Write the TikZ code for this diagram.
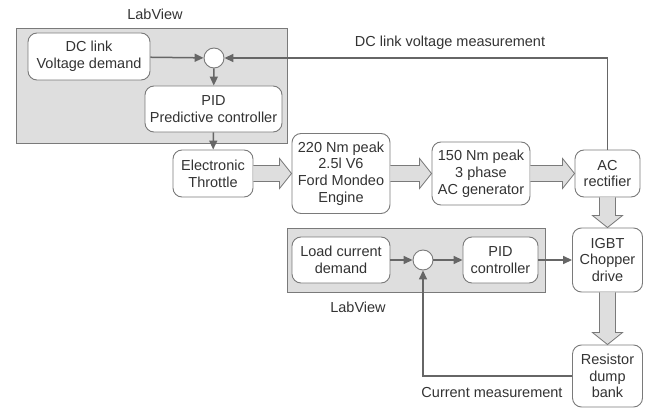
\documentclass[tikz,border=0pt]{standalone}
\usepackage{fontspec}
\setmainfont{Liberation Sans}
\usepackage{tikz}
\usetikzlibrary{positioning, arrows.meta, calc}

\definecolor{boxline}{HTML}{7A7A7A}
\definecolor{labfill}{HTML}{DEDEDE}
\definecolor{txtgray}{HTML}{333333}
\definecolor{wire}{HTML}{666666}

\tikzset{
	blk/.style={draw=boxline, fill=white, rounded corners=9pt, line width=0.9pt, align=center, inner sep=1pt},
	labview/.style={draw=boxline, fill=labfill, line width=0.9pt},
	sumnode/.style={circle, draw=boxline, fill=white, line width=0.9pt, minimum size=20pt, inner sep=0pt},
	sig/.style={draw=wire, line width=1.5pt, -{Triangle[length=9pt,width=8pt]}},
	fat/.style={draw=boxline, fill=labfill, line width=0.8pt, line join=miter},
}

% block arrows between two nodes
\newcommand{\harrow}[2]{%
	\filldraw[fat] ($(#1.east)+(0,-8)$) -- ($(#2.west)+(-12,-8)$) -- ($(#2.west)+(-12,-15)$) -- (#2.west)
		-- ($(#2.west)+(-12,15)$) -- ($(#2.west)+(-12,8)$) -- ($(#1.east)+(0,8)$);}
\newcommand{\varrow}[2]{%
	\filldraw[fat] ($(#1.south)+(-8,0)$) -- ($(#2.north)+(-8,-12)$) -- ($(#2.north)+(-15,-12)$) -- (#2.north)
		-- ($(#2.north)+(15,-12)$) -- ($(#2.north)+(8,-12)$) -- ($(#1.south)+(8,0)$);}

\begin{document}
\begin{tikzpicture}[x=1pt, y=-1pt, font=\fontsize{14.5}{16.8}\selectfont, text=txtgray]
	\useasboundingbox (0,0) rectangle (656,412);

	% LabView areas
	\draw[labview] (16,28) rectangle (287,143);
	\draw[labview] (287,228) rectangle (545,292);
	\node (lvtop) at (155,14) {LabView};
	\node (lvbot) at (358,307) {LabView};

	% upper loop
	\node[blk, minimum width=122pt, minimum height=47pt] (dcdem) at (89,56.5) {DC link\\Voltage demand};
	\node[sumnode] (sumv) at (214,58) {};
	\node[blk, minimum width=137pt, minimum height=46pt] (pidpred) at (213.5,109) {PID\\Predictive controller};
	\node[blk, minimum width=80pt, minimum height=47pt] (throttle) at (213,173.5) {Electronic\\Throttle};

	% power path
	\node[blk, minimum width=98pt, minimum height=80pt] (engine) at (341,173.5) {220 Nm peak\\2.5l V6\\Ford Mondeo\\Engine};
	\node[blk, minimum width=98pt, minimum height=63pt] (gen) at (481,173.5) {150 Nm peak\\3 phase\\AC generator};
	\node[blk, minimum width=65pt, minimum height=47pt] (rect) at (607.5,173.5) {AC\\rectifier};
	\node[blk, minimum width=70pt, minimum height=64pt] (igbt) at (607.5,260) {IGBT\\Chopper\\drive};
	\node[blk, minimum width=70pt, minimum height=62pt] (dump) at (607.5,376) {Resistor\\dump\\bank};

	% lower loop
	\node[blk, minimum width=98pt, minimum height=46pt] (loaddem) at (341,260) {Load current\\demand};
	\node[sumnode] (sumi) at (423,260) {};
	\node[blk, minimum width=75pt, minimum height=46pt] (pidc) at (500.5,260) {PID\\controller};

	\harrow{throttle}{engine}
	\harrow{engine}{gen}
	\harrow{gen}{rect}
	\varrow{rect}{igbt}
	\varrow{igbt}{dump}

	\draw[sig] (dcdem) -- (sumv);
	\draw[sig] (sumv) -- (pidpred);
	\draw[sig] (pidpred) -- (throttle);
	\draw[sig] (rect.north) |- (sumv.east);
	\node (vmeas) at (450,43) {DC link voltage measurement};

	\draw[sig] (loaddem) -- (sumi);
	\draw[sig] (sumi) -- (pidc);
	\draw[sig] (pidc) -- (igbt);
	\draw[sig] (dump.west |- 0,376) -| (sumi.south);
	\node (imeas) at (492,393) {Current measurement};
\end{tikzpicture}
\end{document}
